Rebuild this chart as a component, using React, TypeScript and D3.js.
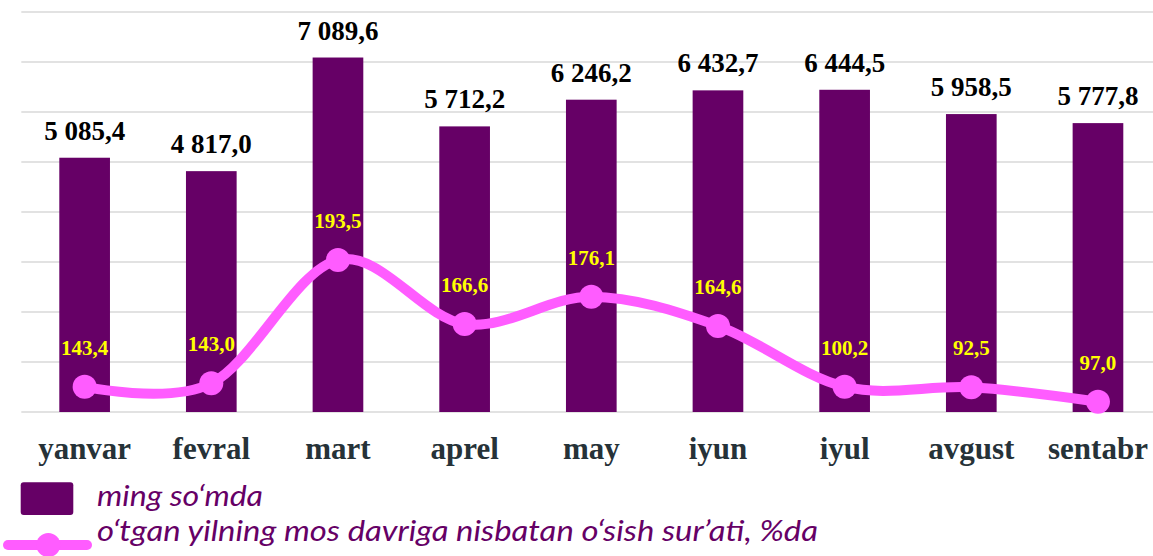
import React from "react";
import * as d3 from "d3";

const months = ["yanvar", "fevral", "mart", "aprel", "may", "iyun", "iyul", "avgust", "sentabr"];
const amounts = [5085.4, 4817.0, 7089.6, 5712.2, 6246.2, 6432.7, 6444.5, 5958.5, 5777.8];
const amountLabels = ["5 085,4", "4 817,0", "7 089,6", "5 712,2", "6 246,2", "6 432,7", "6 444,5", "5 958,5", "5 777,8"];
// growth rate labels (as printed) and the values plotted on the hidden secondary axis
const growthLabels = ["143,4", "143,0", "193,5", "166,6", "176,1", "164,6", "100,2", "92,5", "97,0"];
const growthPlotted = [15.8, 17.9, 95, 55, 72.1, 53.8, 15.8, 15.4, 6.4];
const yTicks = [0, 1000, 2000, 3000, 4000, 5000, 6000, 7000, 8000];
const legendBar = "ming so\u2018mda";
const legendLine = "o\u2018tgan yilning mos davriga nisbatan o\u2018sish sur\u2019ati, %da";

const W = 1153;
const H = 556;
const BAR = "#660066";
const PINK = "#FF5CFF";

export default function App() {
  const x = d3.scaleBand<string>().domain(months).range([21.3, 1161.3]).paddingInner(0.6).paddingOuter(0.3);
  const y = d3.scaleLinear().domain([0, 8000]).range([412, 12]);
  const y2 = d3.scaleLinear().domain([0, 250]).range([412, 12]);
  const cx = (m: string) => (x(m) as number) + x.bandwidth() / 2;
  const pts: [number, number][] = months.map((m, i) => [cx(m), y2(growthPlotted[i])]);
  const line = d3.line().curve(d3.curveCatmullRom.alpha(0))(pts) as string;

  return (
    <svg width={W} height={H} style={{ position: "absolute", left: 0, top: 0, background: "#fff" }}>
      {yTicks.map((t) => (
        <line key={t} x1={21.3} x2={W} y1={y(t)} y2={y(t)} stroke="#d9d9d9" strokeWidth={1.4} />
      ))}
      {months.map((m, i) => (
        <rect key={m} x={x(m)} y={y(amounts[i])} width={x.bandwidth()} height={y(0) - y(amounts[i])} fill={BAR} />
      ))}
      {months.map((m, i) => (
        <text key={"l" + m} x={cx(m)} y={y(amounts[i]) - 18} textAnchor="middle"
          fontFamily="'Liberation Serif', serif" fontWeight="bold" fontSize={27} fill="#000">
          {amountLabels[i]}
        </text>
      ))}
      <path d={line} fill="none" stroke={PINK} strokeWidth={10} strokeLinecap="round" />
      {pts.map((p, i) => (
        <circle key={"c" + i} cx={p[0]} cy={p[1]} r={12} fill={PINK} />
      ))}
      {pts.map((p, i) => (
        <text key={"g" + i} x={p[0]} y={p[1] - 32} textAnchor="middle"
          fontFamily="'Liberation Serif', serif" fontWeight="bold" fontSize={21} fill="#FFFF00">
          {growthLabels[i]}
        </text>
      ))}
      {months.map((m) => (
        <text key={"x" + m} x={cx(m)} y={459} textAnchor="middle"
          fontFamily="'Liberation Serif', serif" fontWeight="bold" fontSize={31} fill="#263238">
          {m}
        </text>
      ))}
      <rect x={20.7} y={482.3} width={52.6} height={32.7} rx={3} fill={BAR} />
      <text x={97} y={505.5} fontFamily="Lato, sans-serif" fontStyle="italic" fontSize={28} fill={BAR}
        textLength={166} lengthAdjust="spacingAndGlyphs">
        {legendBar}
      </text>
      <line x1={8} x2={87} y1={545} y2={545} stroke={PINK} strokeWidth={10} strokeLinecap="round" />
      <circle cx={48.3} cy={545} r={12} fill={PINK} />
      <text x={97} y={541} fontFamily="Lato, sans-serif" fontStyle="italic" fontSize={28} fill={BAR}
        textLength={721} lengthAdjust="spacingAndGlyphs">
        {legendLine}
      </text>
    </svg>
  );
}
